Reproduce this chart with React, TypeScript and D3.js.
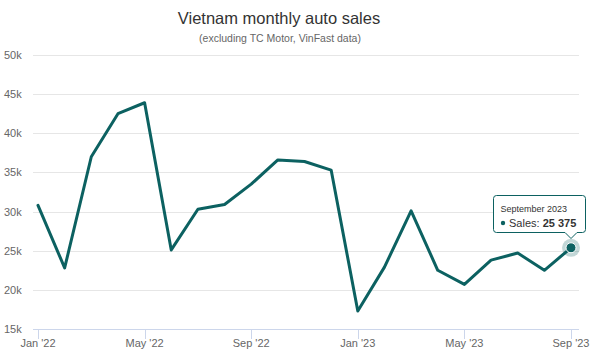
import React from "react";
import * as d3 from "d3";

const months = [
  "2022-01","2022-02","2022-03","2022-04","2022-05","2022-06","2022-07","2022-08","2022-09","2022-10","2022-11","2022-12",
  "2023-01","2023-02","2023-03","2023-04","2023-05","2023-06","2023-07","2023-08","2023-09",
];
const sales = [
  30800, 22800, 37000, 42500, 43900, 25100, 30300, 30900, 33500, 36600, 36400, 35300,
  17300, 22900, 30100, 22500, 20700, 23800, 24700, 22500, 25375,
];
const yTicks = [15000, 20000, 25000, 30000, 35000, 40000, 45000, 50000];
const xTickIdx = [0, 4, 8, 12, 16, 20];
const xTickLabels = ["Jan '22", "May '22", "Sep '22", "Jan '23", "May '23", "Sep '23"];

const W = 600, H = 357;
const COLOR = "#0c6161";
const FONT = "'Liberation Sans', Arial, Helvetica, sans-serif";

export default function App() {
  const x = d3.scaleLinear().domain([0, months.length - 1]).range([38, 571]);
  const y = d3.scaleLinear().domain([15000, 50000]).range([329, 55]);
  const line = d3.line<number>().x((_, i) => x(i)).y((d) => y(d));
  const last = sales.length - 1;
  const px = x(last), py = y(sales[last]);
  const fmt = (v: number) => d3.format(",")(v).replace(/,/g, " ");
  const bx = 493.5, by = 195.5, bw = 92, bh = 37;
  const tipX = px, tipY = by + bh + 6;
  const boxPath = `M${bx + 3},${by} H${bx + bw - 3} Q${bx + bw},${by} ${bx + bw},${by + 3} V${by + bh - 3} Q${bx + bw},${by + bh} ${bx + bw - 3},${by + bh} H${tipX + 6} L${tipX},${tipY} L${tipX - 6},${by + bh} H${bx + 3} Q${bx},${by + bh} ${bx},${by + bh - 3} V${by + 3} Q${bx},${by} ${bx + 3},${by} Z`;
  return (
    <svg width={W} height={H} style={{ display: "block", position: "absolute", left: 0, top: 0, fontFamily: FONT }}>
      <rect width={W} height={H} fill="#fff" />
      <text x={279} y={24} textAnchor="middle" fontSize={16.5} fill="#333">Vietnam monthly auto sales</text>
      <text x={280} y={42} textAnchor="middle" fontSize={10.5} fill="#666">(excluding TC Motor, VinFast data)</text>
      {yTicks.map((t) => (
        <g key={t}>
          {t !== 15000 && <line x1={33} x2={579} y1={Math.round(y(t)) + 0.5} y2={Math.round(y(t)) + 0.5} stroke="#e6e6e6" strokeWidth={1} />}
          <text x={4} y={y(t) + 4} fontSize={11} fill="#666">{`${t / 1000}k`}</text>
        </g>
      ))}
      <line x1={33} x2={579} y1={y(15000) + 0.5} y2={y(15000) + 0.5} stroke="#ccd6eb" strokeWidth={1} />
      {xTickIdx.map((i, k) => (
        <g key={i}>
          <line x1={Math.round(x(i)) + 0.5} x2={Math.round(x(i)) + 0.5} y1={y(15000)} y2={y(15000) + 10} stroke="#ccd6eb" />
          <text x={x(i)} y={347} textAnchor="middle" fontSize={11} fill="#666">{xTickLabels[k]}</text>
        </g>
      ))}
      <path d={line(sales) || ""} fill="none" stroke={COLOR} strokeWidth={3} strokeLinejoin="round" strokeLinecap="round" />
      <circle cx={px} cy={py} r={9} fill={COLOR} fillOpacity={0.25} />
      <circle cx={px} cy={py} r={5} fill={COLOR} stroke="#fff" strokeWidth={1} />
      <path d={boxPath} fill="#fff" fillOpacity={0.95} stroke={COLOR} strokeWidth={1} />
      <text x={500.5} y={212} fontSize={9} fill="#333">September 2023</text>
      <circle cx={503} cy={223} r={2.2} fill={COLOR} />
      <text x={509} y={227} fontSize={11} fill="#333">
        Sales: <tspan fontWeight="bold">{fmt(sales[last])}</tspan>
      </text>
    </svg>
  );
}
